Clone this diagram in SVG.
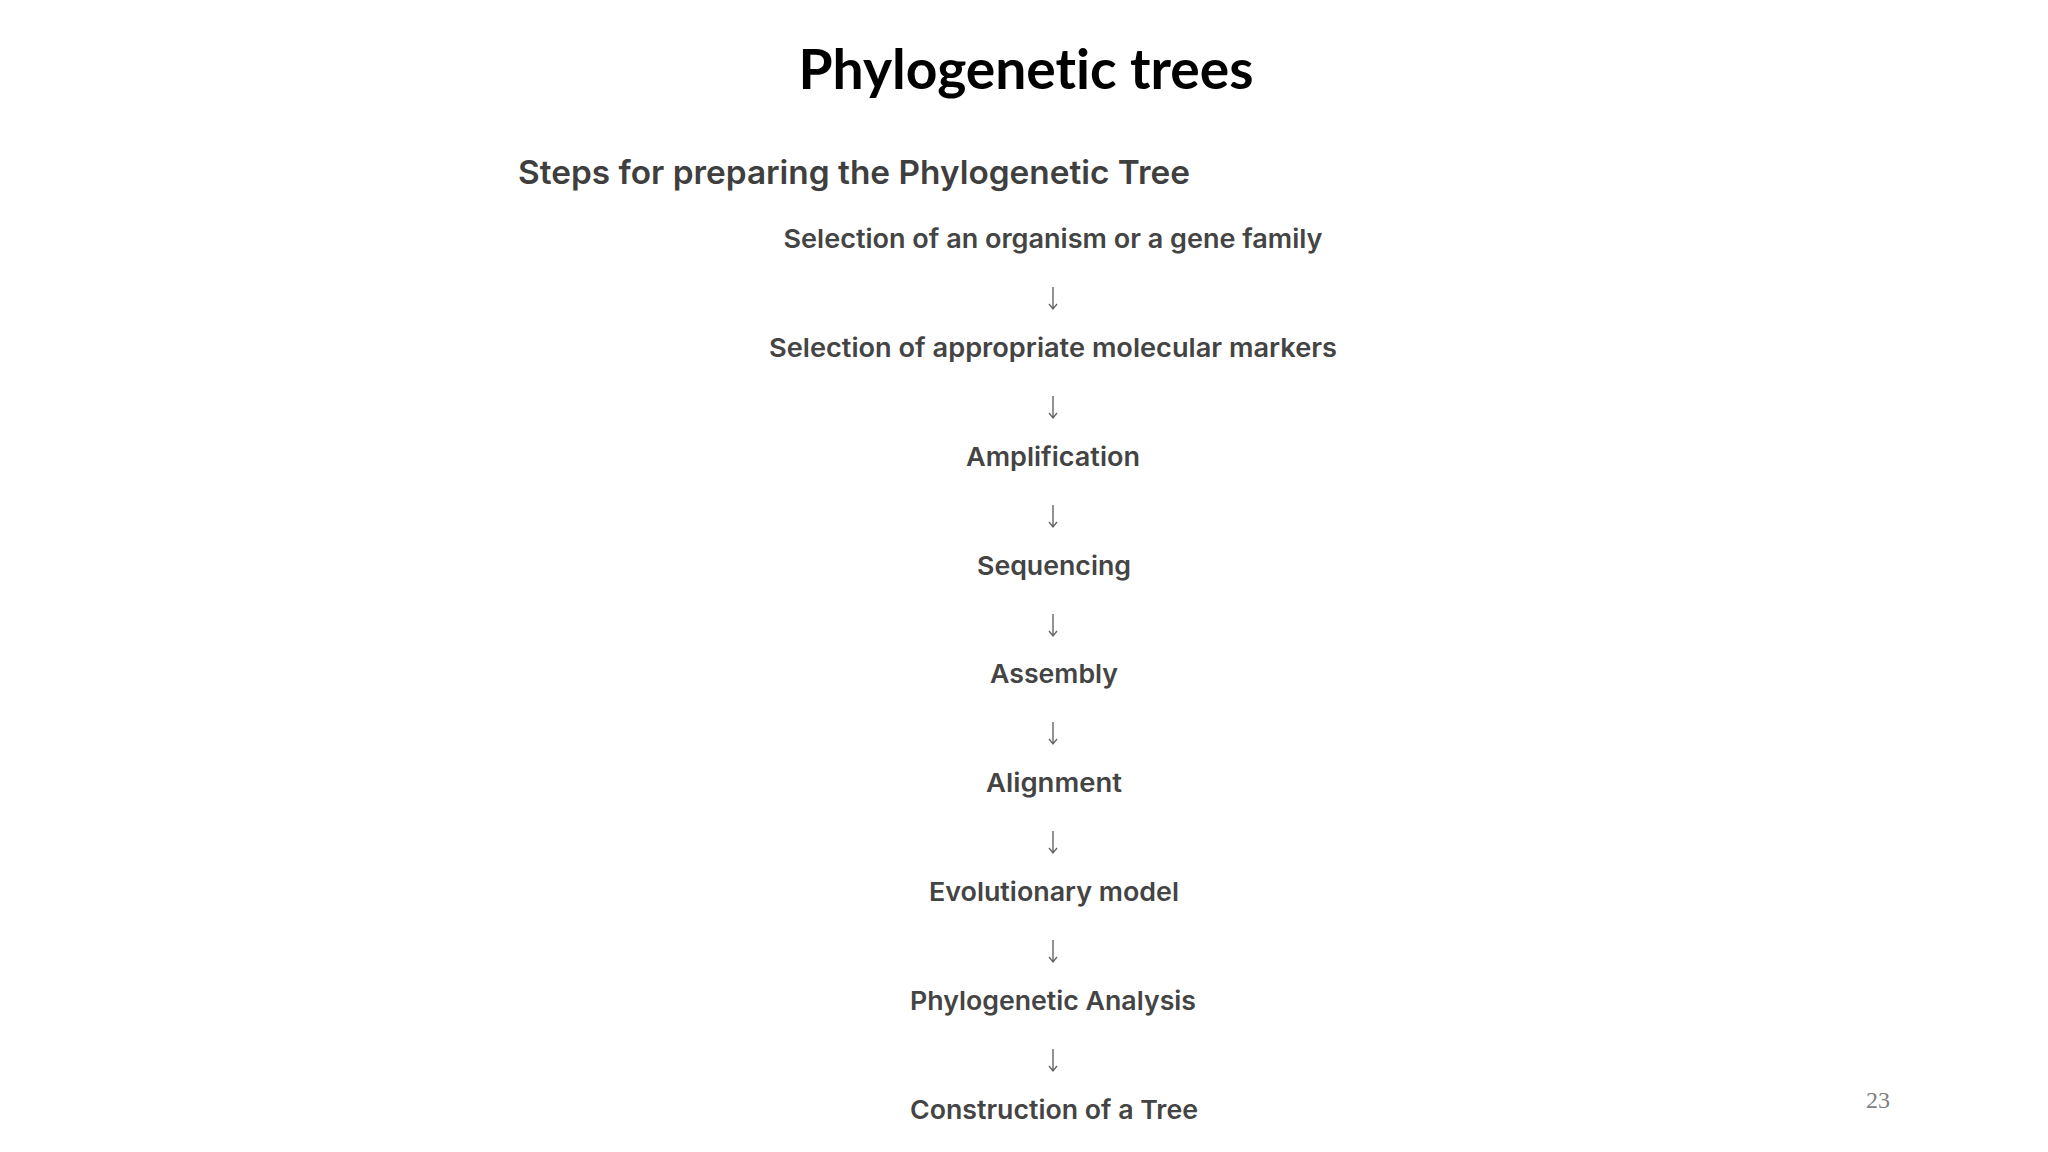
<svg xmlns="http://www.w3.org/2000/svg" width="2048" height="1152" viewBox="0 0 2048 1152">
<defs>
<style>
.title{font-family:Lato,"Liberation Sans",Arial,sans-serif;font-weight:bold;font-size:56px;fill:#000;text-anchor:middle;font-variant-ligatures:none}
.sub{font-family:Inter,"Open Sans",sans-serif;font-weight:600;font-size:33px;fill:#3f3f3f}
.step{font-family:Inter,"Open Sans",sans-serif;font-weight:600;font-size:26px;fill:#444;text-anchor:middle}
.arrow{stroke:#666;stroke-width:1.4;fill:none}
.pg{font-family:"Liberation Serif","Times New Roman",serif;font-size:24px;fill:#808080}
</style>
</defs>
<rect width="2048" height="1152" fill="#fff"/>
<text class="title" x="1026" y="89" textLength="455" lengthAdjust="spacingAndGlyphs">Phylogenetic trees</text>
<text class="sub" x="518" y="184" textLength="672" lengthAdjust="spacingAndGlyphs">Steps for preparing the Phylogenetic Tree</text>
<g id="step1"><text class="step" x="1053" y="248" textLength="539" lengthAdjust="spacingAndGlyphs">Selection of an organism or a gene family</text></g>
<g id="step2"><text class="step" x="1053" y="357" textLength="568" lengthAdjust="spacingAndGlyphs">Selection of appropriate molecular markers</text></g>
<g id="step3"><text class="step" x="1053" y="466" textLength="174" lengthAdjust="spacingAndGlyphs">Amplification</text></g>
<g id="step4"><text class="step" x="1054" y="575" textLength="154" lengthAdjust="spacingAndGlyphs">Sequencing</text></g>
<g id="step5"><text class="step" x="1054" y="683" textLength="128" lengthAdjust="spacingAndGlyphs">Assembly</text></g>
<g id="step6"><text class="step" x="1054" y="792" textLength="136" lengthAdjust="spacingAndGlyphs">Alignment</text></g>
<g id="step7"><text class="step" x="1054" y="901" textLength="250" lengthAdjust="spacingAndGlyphs">Evolutionary model</text></g>
<g id="step8"><text class="step" x="1053" y="1010" textLength="286" lengthAdjust="spacingAndGlyphs">Phylogenetic Analysis</text></g>
<g id="step9"><text class="step" x="1054" y="1119" textLength="288" lengthAdjust="spacingAndGlyphs">Construction of a Tree</text></g>
<g id="connectors" class="arrow">
<path d="M1053 287V309M1049 304L1053 309L1057 304"/>
<path d="M1053 396V418M1049 413L1053 418L1057 413"/>
<path d="M1053 505V527M1049 522L1053 527L1057 522"/>
<path d="M1053 614V636M1049 631L1053 636L1057 631"/>
<path d="M1053 722V744M1049 739L1053 744L1057 739"/>
<path d="M1053 831V853M1049 848L1053 853L1057 848"/>
<path d="M1053 940V962M1049 957L1053 962L1057 957"/>
<path d="M1053 1049V1071M1049 1066L1053 1071L1057 1066"/>
</g>
<text class="pg" x="1866" y="1108">23</text>
</svg>
